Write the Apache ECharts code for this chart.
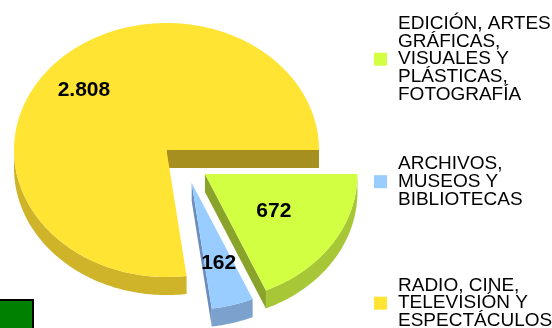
<!DOCTYPE html>
<html>
<head>
<meta charset="utf-8">
<script src="https://cdn.jsdelivr.net/npm/echarts@6/dist/echarts.min.js"></script>
<style>
  html, body { margin: 0; padding: 0; background: #fff; }
  #chart { width: 552px; height: 328px; }
</style>
</head>
<body>
<div id="chart"></div>
<script>
// Data, in drawing order (clockwise from 3 o'clock)
const categories = [
  'EDICIÓN, ARTES\nGRÁFICAS,\nVISUALES Y\nPLÁSTICAS,\nFOTOGRAFÍA',
  'ARCHIVOS,\nMUSEOS Y\nBIBLIOTECAS',
  'RADIO, CINE,\nTELEVISIÓN Y\nESPECTÁCULOS'
];
const values = [672, 162, 2808];

// Spanish number format: dot as thousands separator
const fmt = v => String(v).replace(/\B(?=(\d{3})+(?!\d))/g, '.');

// --- geometry and styling of the 3D pie ---
const TAU = Math.PI * 2;
const total = values.reduce((a, b) => a + b, 0);
const shares = values.map(v => v / total);
const startShares = [];
shares.reduce((acc, s) => { startShares.push(acc); return acc + s; }, 0);

const SHIFT = [[0.252, -0.189], [0.165, -0.257], [0, 0]]; // explode offsets (axis units)
const DEPTH = 0.142;                                       // slab thickness (axis units)
const LABEL_R = [0.54, 0.66, 0.72];
const PALETTE = [
  { top: '#D2FF42', side: '#A8C736', cut: '#8AA32B' },
  { top: '#99CCFF', side: '#7BA2CD', cut: '#6A8DBC' },
  { top: '#FFE433', side: '#CFB42A', cut: '#A68F1F' }
];
const LEGEND_CENTER = [58.5, 181, 302.5];
const LEGEND_LINE = 17.6;

function renderItem(params, api) {
  const i = params.seriesIndex;
  const c = PALETTE[i];
  const a0 = -startShares[i] * TAU;
  const a1 = -(startShares[i] + shares[i]) * TAU;
  const [ox, oy] = SHIFT[i];
  const P = (ang, r, drop) => api.coord([ox + r * Math.cos(ang), oy + r * Math.sin(ang) - drop]);
  const arc = (from, to, drop) => {
    const n = Math.max(2, Math.ceil(Math.abs(to - from) / (Math.PI / 180)));
    const pts = [];
    for (let k = 0; k <= n; k++) pts.push(P(from + (to - from) * k / n, 1, drop));
    return pts;
  };
  const children = [];
  // radial cut faces that turn toward the viewer
  if (Math.cos(a1) > 1e-6) {
    children.push({ type: 'polygon', shape: { points: [P(0, 0, 0), P(a1, 1, 0), P(a1, 1, DEPTH), P(0, 0, DEPTH)] }, style: { fill: c.cut } });
  }
  if (Math.cos(a0) < -1e-6) {
    children.push({ type: 'polygon', shape: { points: [P(0, 0, 0), P(a0, 1, 0), P(a0, 1, DEPTH), P(0, 0, DEPTH)] }, style: { fill: c.cut } });
  }
  // front part of the outer rim
  for (let k = -1; k <= 1; k++) {
    const lo = Math.max(a1, -Math.PI + TAU * k);
    const hi = Math.min(a0, TAU * k);
    if (hi > lo) {
      children.push({ type: 'polygon', shape: { points: arc(lo, hi, 0).concat(arc(hi, lo, DEPTH)) }, style: { fill: c.side } });
    }
  }
  // top face
  children.push({ type: 'polygon', shape: { points: [P(0, 0, 0)].concat(arc(a1, a0, 0)) }, style: { fill: c.top } });
  // value label
  const mid = (a0 + a1) / 2;
  const lp = P(mid, LABEL_R[i], 0);
  children.push({
    type: 'text',
    style: {
      text: fmt(values[i]), x: lp[0], y: lp[1], align: 'center', verticalAlign: 'middle',
      font: 'bold 21px "Liberation Sans", Arial, sans-serif', fill: '#000'
    }
  });
  return { type: 'group', children };
}

const chart = echarts.init(document.getElementById('chart'), null, { renderer: 'canvas' });
chart.setOption({
  animation: false,
  backgroundColor: '#fff',
  grid: { left: 14, top: 23, width: 305, height: 254, show: false },
  xAxis: { type: 'value', min: -1, max: 1, show: false },
  yAxis: { type: 'value', min: -1, max: 1, show: false },
  legend: categories.map((name, i) => {
    const lines = name.split('\n').length;
    return {
      data: [name],
      orient: 'vertical',
      left: 374,
      top: LEGEND_CENTER[i] - lines * LEGEND_LINE / 2,
      padding: 0,
      itemWidth: 13,
      itemHeight: 13,
      icon: 'rect',
      selectedMode: false,
      textStyle: {
        fontFamily: '"Liberation Sans", Arial, sans-serif',
        fontSize: 19,
        lineHeight: LEGEND_LINE,
        color: '#000',
        padding: [0, 0, 0, 6]
      }
    };
  }),
  series: categories.map((name, i) => ({
    type: 'custom',
    name,
    coordinateSystem: 'cartesian2d',
    renderItem,
    silent: true,
    itemStyle: { color: PALETTE[i].top },
    data: [[0, 0]]
  })),
  graphic: [{
    type: 'rect',
    shape: { x: -3, y: 300, width: 36, height: 40 },
    style: { fill: '#008000', stroke: '#000', lineWidth: 2 }
  }]
});
</script>
</body>
</html>
